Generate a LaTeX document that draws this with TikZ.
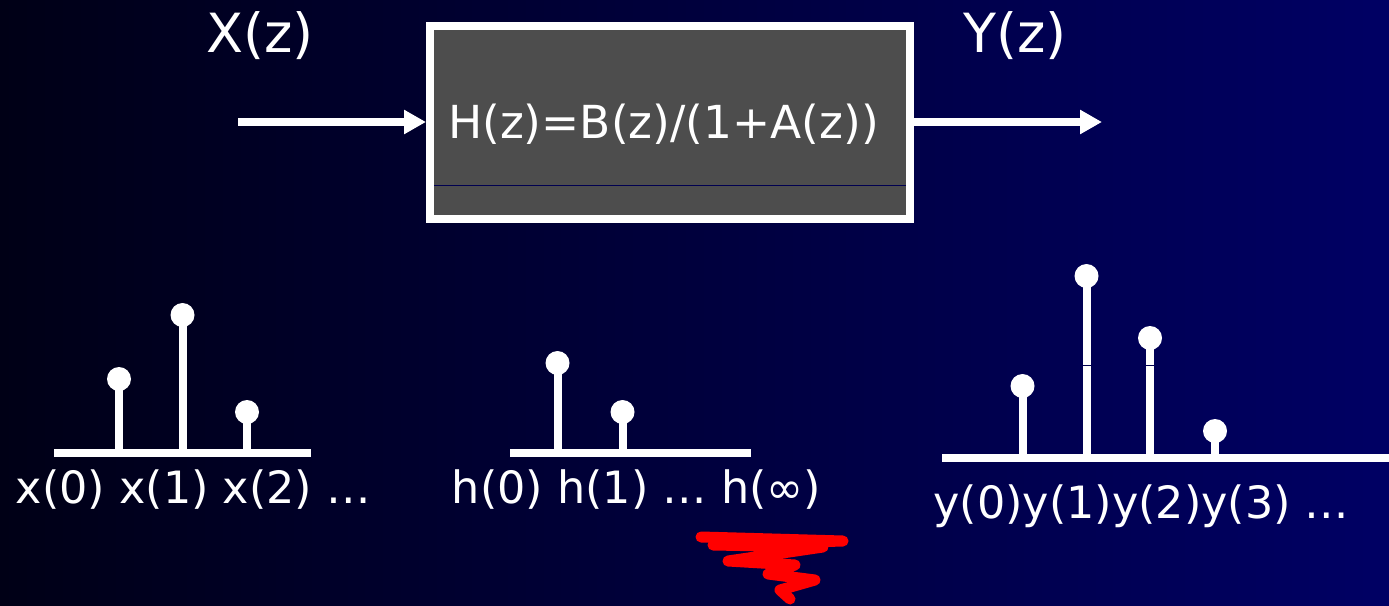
\documentclass[tikz,border=0pt]{standalone}
\usepackage{fontspec}
\setmainfont{DejaVu Sans}
\usetikzlibrary{arrows.meta}
\definecolor{bgL}{RGB}{0,0,22}
\definecolor{bgR}{RGB}{0,0,100}
\definecolor{boxfill}{RGB}{77,77,77}
\definecolor{navyline}{RGB}{0,0,80}
\tikzset{
  big/.style={text=white, inner sep=0pt, font=\fontsize{54}{60}\selectfont},
  lbl/.style={text=white, inner sep=0pt, font=\fontsize{44.5}{50}\selectfont},
  sysbox/.style={draw=white, line width=8pt, fill=boxfill, minimum width=480pt, minimum height=193pt, inner sep=0pt},
  sigarrow/.style={draw=white, line width=8pt, -{Triangle[length=22pt,width=23pt]}},
  axisline/.style={draw=white, line width=8pt},
  stemline/.style={draw=white, line width=8pt},
  dot/.style={fill=white},
  scribble/.style={draw=red, line width=11pt, line cap=round, line join=round}
}
\begin{document}
\begin{tikzpicture}[x=1pt,y=-1pt]
\useasboundingbox (0,0) rectangle (1389,605);
\shade[left color=bgL, right color=bgR] (0,0) rectangle (1389,605);

% system block
\node[sysbox] (box) at (670,122.5) {};
\draw[navyline, line width=1pt] (434,185) -- (906,185);
\node[lbl, font=\fontsize{45.5}{50}\selectfont, anchor=base] (H) at (663.5,138) {H(z)=B(z)/(1+A(z))};

% input / output
\node[big, anchor=base] (X) at (260,52) {X(z)};
\node[big, anchor=base] (Y) at (1015,52) {Y(z)};
\coordinate (in) at (238,122);
\coordinate (out) at (1102,122);
\draw[sigarrow] (in) -- (in -| box.west);
\draw[sigarrow] (out -| box.east) -- (out);

% x sequence
\draw[axisline] (54,452.5) -- (311,452.5);
\foreach \xx/\yy in {119/379, 182.5/315, 247/412}{
  \draw[stemline] (\xx,452.5) -- (\xx,\yy);
  \fill[dot] (\xx,\yy) circle (12);
}
\node[lbl, anchor=base] (xl) at (193.5,503) {x(0) x(1) x(2) …};

% h sequence
\draw[axisline] (510,452.5) -- (751,452.5);
\foreach \xx/\yy in {557.5/363, 622.5/412}{
  \draw[stemline] (\xx,452.5) -- (\xx,\yy);
  \fill[dot] (\xx,\yy) circle (12);
}
\node[lbl, anchor=base] (hl) at (636.5,503) {h(0) h(1) … h(∞)};

% y sequence
\draw[axisline] (942,458) -- (1389,458);
\foreach \xx/\yy in {1022.5/386, 1086.5/276, 1150/338, 1215/431}{
  \draw[stemline] (\xx,458) -- (\xx,\yy);
  \fill[dot] (\xx,\yy) circle (12);
}
\draw[navyline, line width=0.8pt] (1082,365) -- (1091,365);
\draw[navyline, line width=0.8pt] (1146,365) -- (1154,365);
\node[lbl, anchor=base] (yl) at (1141.5,518) {y(0)y(1)y(2)y(3) …};

% red scribble
\draw[scribble] (701,537) -- (843,541) -- (713,545) -- (823,547) -- (728,561)
  -- (795,565) -- (768,574) -- (815,580) -- (780,590) -- (790,599);
\end{tikzpicture}
\end{document}
